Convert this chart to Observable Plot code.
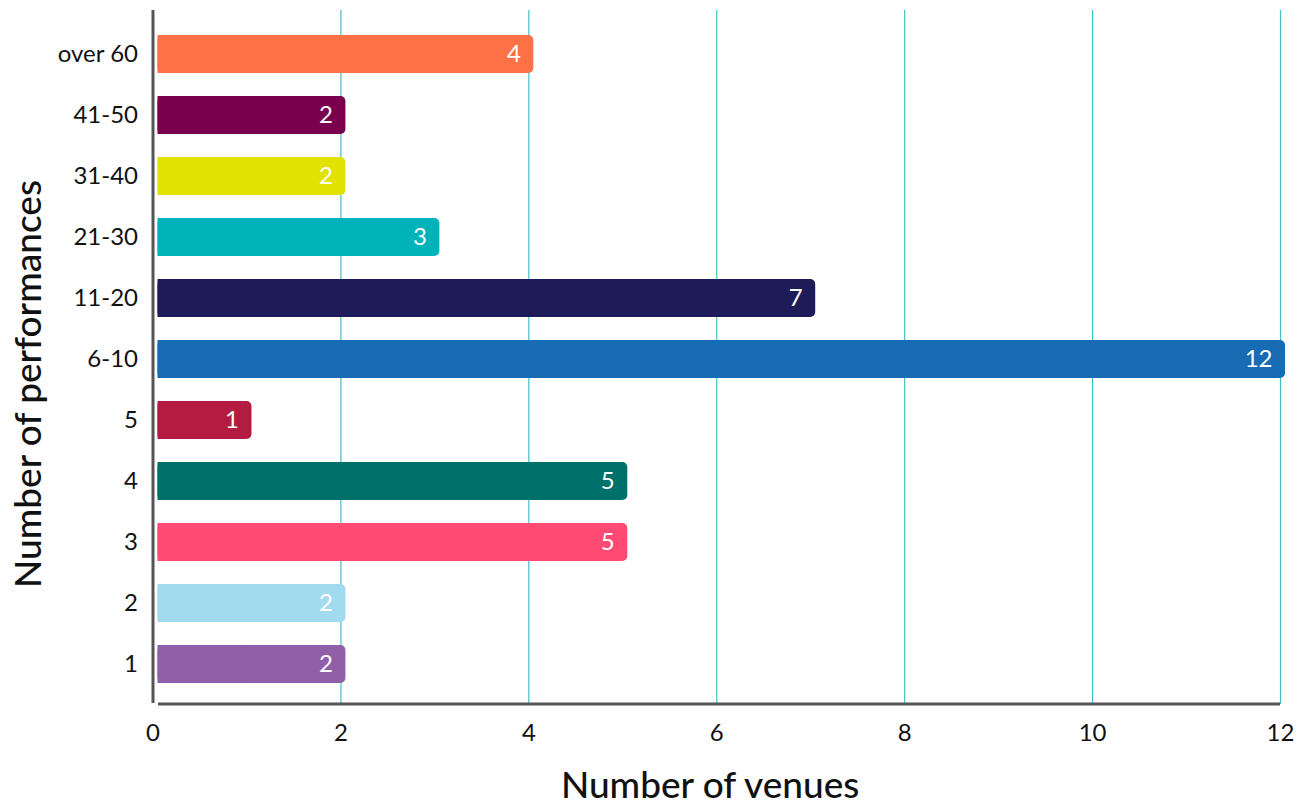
<!DOCTYPE html>
<html>
<head>
<meta charset="utf-8">
<script src="https://cdn.jsdelivr.net/npm/d3@7"></script>
<script src="https://cdn.jsdelivr.net/npm/@observablehq/plot@0.6"></script>
<style>
  html, body { margin: 0; padding: 0; background: #ffffff; }
  #chart svg { display: block; }
</style>
</head>
<body>
<div id="chart"></div>
<script>
// Performance bands, listed top to bottom
const bands = ["over 60", "41-50", "31-40", "21-30", "11-20", "6-10", "5", "4", "3", "2", "1"];
// Number of venues in each band
const venues = [4, 2, 2, 3, 7, 12, 1, 5, 5, 2, 2];
// Bar colour for each band
const colors = ["#FE7146", "#7A004E", "#E2E202", "#00B2B9", "#1E1C58", "#176CB3",
                "#B31C40", "#00706B", "#FF4A73", "#A2DBF0", "#905FA8"];
const xTicks = [0, 2, 4, 6, 8, 10, 12];
const gridTicks = [2, 4, 6, 8, 10, 12];

const rows = bands.map((band, i) => ({band, value: venues[i], color: colors[i]}));

const W = 1306, H = 805;
const mTop = 10, mBottom = 101, mLeft = 152.5, mRight = 26;

const plot = Plot.plot({
  width: W,
  height: H,
  marginTop: mTop,
  marginBottom: mBottom,
  marginLeft: mLeft,
  marginRight: mRight,
  style: {fontFamily: "Lato, sans-serif", background: "#ffffff", color: "#111"},
  x: {domain: [0, 12], ticks: xTicks, label: null},
  y: {domain: bands, range: [21.3, 696.2], paddingInner: 0.38, paddingOuter: 0.19, label: null},
  color: {type: "identity"},
  marks: [
    // vertical grid lines
    Plot.ruleX(gridTicks, {stroke: "#3EC1C9", strokeWidth: 1.2}),
    // bars: rounded body, then a square fill over the left half
    Plot.barX(rows, {x1: 0, x2: "value", y: "band", fill: "color", rx: 5,
                     insetLeft: 5, insetRight: -5}),
    Plot.barX(rows, {x1: 0, x2: d => d.value / 2, y: "band", fill: "color", insetLeft: 5}),
    // value labels inside the bars
    Plot.text(rows, {x: "value", y: "band", text: d => String(d.value), textAnchor: "end",
                     dx: -8, fill: "#ffffff", fontSize: 24}),
    // left axis line
    Plot.ruleX([0], {stroke: "#555555", strokeWidth: 3, insetBottom: 1}),
    Plot.axisY({tickSize: 0, tickPadding: 15, fontSize: 24, label: null}),
    Plot.axisX({ticks: xTicks, tickSize: 0, tickPadding: 19, fontSize: 24, label: null}),
    // axis titles
    Plot.text(["Number of venues"], {frameAnchor: "bottom", x: 5.93, dy: 93, fontSize: 37,
                                     fontWeight: 500, fill: "#111", lineAnchor: "bottom"}),
    Plot.text(["Number of performances"], {frameAnchor: "left", textAnchor: "middle",
                                           dx: -124.3, dy: 26.5, rotate: -90,
                                           fontSize: 37, fontWeight: 500, fill: "#111"})
  ]
});

// horizontal axis line along the bottom of the frame, placed with the x scale
const sx = plot.scale("x");
const yBase = H - mBottom;
d3.select(plot).append("line")
  .attr("x1", sx.apply(0) + 5.5)
  .attr("x2", sx.apply(12))
  .attr("y1", yBase)
  .attr("y2", yBase)
  .attr("stroke", "#555555")
  .attr("stroke-width", 3);

document.getElementById("chart").appendChild(plot);
</script>
</body>
</html>
